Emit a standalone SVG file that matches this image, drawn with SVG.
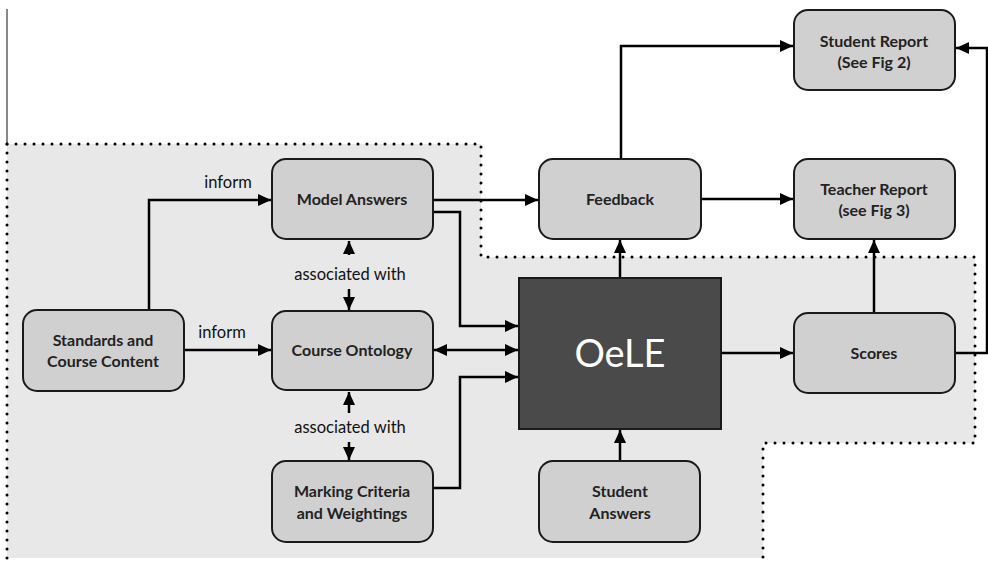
<svg xmlns="http://www.w3.org/2000/svg" width="988" height="561" viewBox="0 0 988 561">
<style>
.node{fill:#d0d0d0;stroke:#1a1a1a;stroke-width:2}
.t{font-family:Lato,"Open Sans","Liberation Sans",sans-serif;font-size:16px;font-weight:bold;fill:#222;text-anchor:middle}
.lbl{font-family:Lato,"Open Sans","Liberation Sans",sans-serif;font-size:16.5px;fill:#111;text-anchor:middle}
.c{fill:none;stroke:#000;stroke-width:2.5;marker-end:url(#ah)}
.dot{fill:none;stroke:#000;stroke-width:3;stroke-dasharray:0 9;stroke-linecap:round}
</style>
<defs>
<marker id="ah" markerUnits="userSpaceOnUse" markerWidth="14" markerHeight="12" refX="13" refY="6" orient="auto-start-reverse">
<path d="M0,0 L13,6 L0,12 z" fill="#000"/>
</marker>
</defs>
<rect width="988" height="561" fill="#fff"/>
<line x1="7" y1="9" x2="7" y2="144" stroke="#888" stroke-width="2"/>
<g id="region">
<path d="M7,144 H481 V257 H975 V443 H763 V558 H7 Z" fill="#e8e8e8"/>
<path class="dot" d="M7,144 H481 V257 H975 V443 H763 V561"/>
<path class="dot" d="M7,144 V561"/>
</g>
<g id="connectors">
<path class="c" d="M149,310 V200 H271"/>
<path class="c" d="M184,350 H271"/>
<path class="c" d="M349,255 V241"/>
<path class="c" d="M349,289 V310"/>
<path class="c" d="M349,413 V392"/>
<path class="c" d="M349,442 V460"/>
<path class="c" d="M433,200 H538"/>
<path class="c" d="M433,212 H460 V326 H518"/>
<path class="c" d="M434,350 H518" style="marker-start:url(#ah)"/>
<path class="c" d="M433,488 H460 V377 H518"/>
<path class="c" d="M620,278 V240"/>
<path class="c" d="M621,159 V46 H793"/>
<path class="c" d="M701,199 H793"/>
<path class="c" d="M721,353 H793"/>
<path class="c" d="M874,313 V240"/>
<path class="c" d="M955,353 H987 V48 H956"/>
<path class="c" d="M620,461 V430"/>
</g>
<g id="inform1"><text class="lbl" x="228" y="188">inform</text></g>
<g id="inform2"><text class="lbl" x="222" y="338">inform</text></g>
<g id="assoc1"><text class="lbl" x="350" y="280">associated with</text></g>
<g id="assoc2"><text class="lbl" x="350" y="433">associated with</text></g>
<g id="model-answers">
<rect class="node" x="272" y="159" width="161" height="80" rx="14"/>
<text class="t" x="352" y="205">Model Answers</text>
</g>
<g id="standards">
<rect class="node" x="23" y="310" width="161" height="81" rx="14"/>
<text class="t" x="103" y="346">Standards and</text>
<text class="t" x="103" y="367">Course Content</text>
</g>
<g id="course-ontology">
<rect class="node" x="272" y="311" width="161" height="79" rx="14"/>
<text class="t" x="352" y="356">Course Ontology</text>
</g>
<g id="marking">
<rect class="node" x="272" y="461" width="161" height="81" rx="14"/>
<text class="t" x="352" y="497">Marking Criteria</text>
<text class="t" x="352" y="519">and Weightings</text>
</g>
<g id="feedback">
<rect class="node" x="539" y="159" width="162" height="80" rx="14"/>
<text class="t" x="620" y="205">Feedback</text>
</g>
<g id="student-report">
<rect class="node" x="794" y="10" width="161" height="80" rx="14"/>
<text class="t" x="874" y="47">Student Report</text>
<text class="t" x="874" y="68">(See Fig 2)</text>
</g>
<g id="teacher-report">
<rect class="node" x="794" y="159" width="161" height="80" rx="14"/>
<text class="t" x="874" y="195">Teacher Report</text>
<text class="t" x="874" y="216">(see Fig 3)</text>
</g>
<g id="oele">
<rect x="519" y="278" width="202" height="151" fill="#4a4a4a" stroke="#1a1a1a" stroke-width="2"/>
<text x="620" y="367" font-family="Lato,'Open Sans','Liberation Sans',sans-serif" font-size="38" fill="#fff" text-anchor="middle">OeLE</text>
</g>
<g id="scores">
<rect class="node" x="794" y="313" width="161" height="80" rx="14"/>
<text class="t" x="874" y="359">Scores</text>
</g>
<g id="student-answers">
<rect class="node" x="539" y="461" width="161" height="81" rx="14"/>
<text class="t" x="620" y="497">Student</text>
<text class="t" x="620" y="519">Answers</text>
</g>
</svg>
